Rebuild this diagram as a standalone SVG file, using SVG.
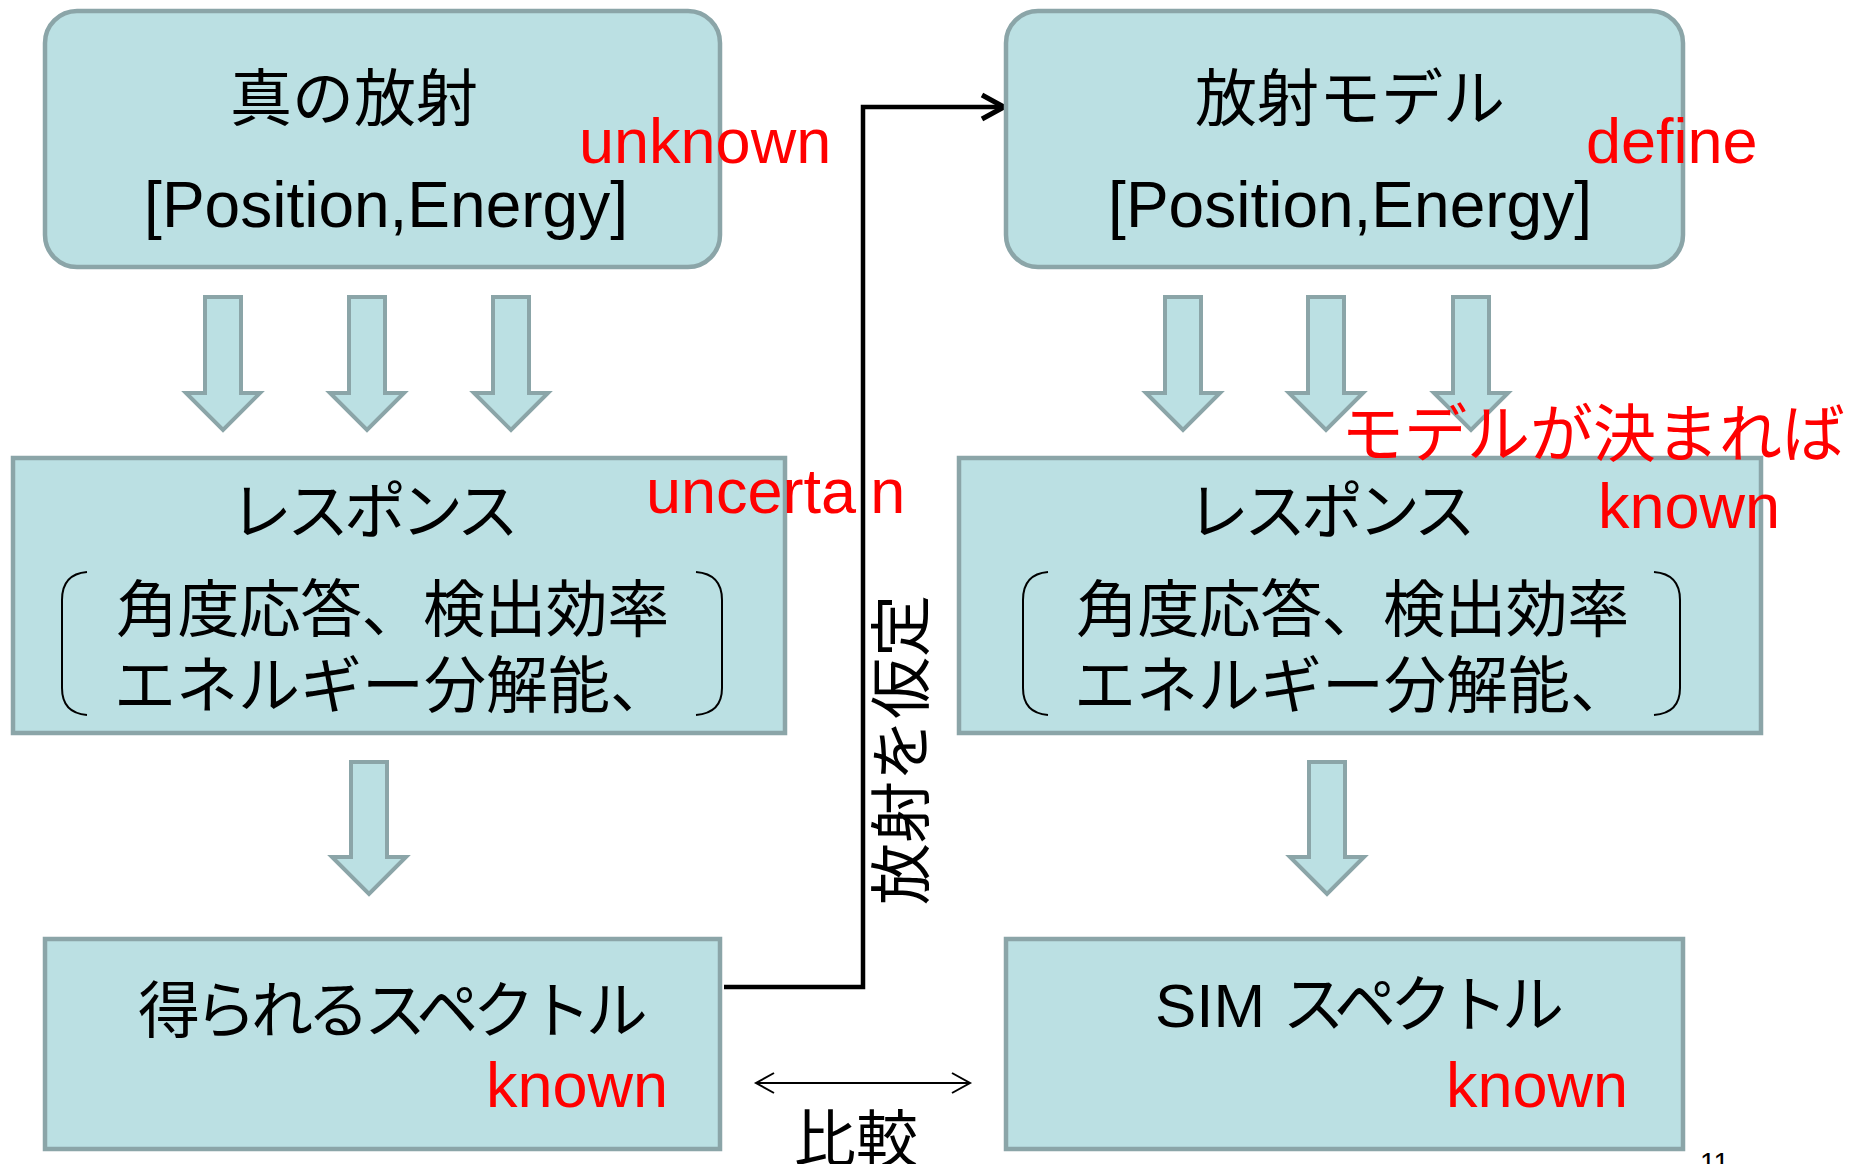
<svg xmlns="http://www.w3.org/2000/svg" width="1863" height="1164" viewBox="0 0 1863 1164">
<style>
.box{fill:#BBE0E3;stroke:#8BA5A8;stroke-width:4.5}
.blk{fill:#BBE0E3;stroke:#8BA5A8;stroke-width:4}
.t{font-family:"Liberation Sans","Noto Sans CJK JP",sans-serif;font-size:62px;fill:#000}
.pe{font-size:64px}
.r{font-family:"Liberation Sans","Noto Sans CJK JP",sans-serif;font-size:63px;fill:#FF0000}
.m{text-anchor:middle}
.br{fill:none;stroke:#000;stroke-width:2}
</style>
<defs>
<marker id="open" markerUnits="userSpaceOnUse" markerWidth="30" markerHeight="30" refX="24" refY="15" orient="auto">
<path d="M2,3 L24,15 L2,27" fill="none" stroke="#000" stroke-width="5"/>
</marker>
<marker id="thin" markerUnits="userSpaceOnUse" markerWidth="24" markerHeight="24" refX="20" refY="12" orient="auto-start-reverse">
<path d="M2,2 L20,12 L2,22" fill="none" stroke="#000" stroke-width="2"/>
</marker>
</defs>
<rect width="1863" height="1164" fill="#fff"/>
<g id="connectors">
<polygon class="blk" points="205,297 241,297 241,393 260,393 223,430 186,393 205,393"/>
<polygon class="blk" points="349,297 385,297 385,393 404,393 367,430 330,393 349,393"/>
<polygon class="blk" points="493,297 529,297 529,393 548,393 511,430 474,393 493,393"/>
<polygon class="blk" points="1165,297 1201,297 1201,393 1220,393 1183,430 1146,393 1165,393"/>
<polygon class="blk" points="1308,297 1344,297 1344,393 1363,393 1326,430 1289,393 1308,393"/>
<polygon class="blk" points="1453,297 1489,297 1489,393 1508,393 1471,430 1434,393 1453,393"/>
<polygon class="blk" points="351,762 387,762 387,857 406,857 369,894 332,857 351,857"/>
<polygon class="blk" points="1309,762 1345,762 1345,857 1364,857 1327,894 1290,857 1309,857"/>
<path d="M724,987 H863 V107 H1004" fill="none" stroke="#000" stroke-width="4.5" marker-end="url(#open)"/>
<text class="t m" transform="translate(924,750) rotate(-90)">放射を仮定</text>
<path d="M756,1083 H970" fill="none" stroke="#000" stroke-width="2" marker-start="url(#thin)" marker-end="url(#thin)"/>
<text class="t m" x="856" y="1162">比較</text>
</g>
<g id="node-true">
<rect class="box" x="45" y="11" width="675" height="256" rx="32"/>
<text class="t m" x="354" y="121">真の放射</text>
<text class="t m pe" x="386" y="227">[Position,Energy]</text>
<text class="r" x="579" y="163">unknown</text>
</g>
<g id="node-model">
<rect class="box" x="1006" y="11" width="677" height="256" rx="32"/>
<text class="t m" x="1350" y="121">放射モデル</text>
<text class="t m pe" x="1350" y="227">[Position,Energy]</text>
<text class="r" x="1586" y="163">define</text>
</g>
<g id="node-response-left">
<rect class="box" x="13" y="458" width="772" height="275"/>
<text class="t m" x="372" y="534" letter-spacing="-5">レスポンス</text>
<path class="br" d="M87,572 Q62,574 62,600 V688 Q62,713 87,715"/>
<path class="br" d="M696,572 Q722,574 722,600 V688 Q722,713 696,715"/>
<text class="t" x="116" y="632" letter-spacing="-0.6">角度応答、検出効率</text>
<text class="t" x="114" y="708">エネルギー分解能、</text>
<text class="r" x="646" y="513">uncerta<tspan fill="none">i</tspan>n</text>
</g>
<g id="node-response-right">
<rect class="box" x="959" y="458" width="802" height="275"/>
<text class="t m" x="1329" y="534" letter-spacing="-5">レスポンス</text>
<path class="br" d="M1048,572 Q1023,574 1023,600 V688 Q1023,713 1048,715"/>
<path class="br" d="M1654,572 Q1680,574 1680,600 V688 Q1680,713 1654,715"/>
<text class="t" x="1076" y="632" letter-spacing="-0.6">角度応答、検出効率</text>
<text class="t" x="1074" y="708">エネルギー分解能、</text>
<text class="r" x="1341" y="456">モデルが決まれば</text>
<text class="r" x="1598" y="528">known</text>
</g>
<g id="node-spectrum">
<rect class="box" x="45" y="939" width="675" height="210"/>
<text class="t" x="138" y="1033" letter-spacing="-5.5">得られるスペクトル</text>
<text class="r" x="486" y="1107">known</text>
</g>
<g id="node-sim">
<rect class="box" x="1006" y="939" width="677" height="210"/>
<text class="t" x="1155" y="1027">SIM <tspan letter-spacing="-6">スペクトル</tspan></text>
<text class="r" x="1446" y="1107">known</text>
</g>
<text x="1700" y="1172" font-family="Liberation Sans, sans-serif" font-size="28">11</text>
</svg>
